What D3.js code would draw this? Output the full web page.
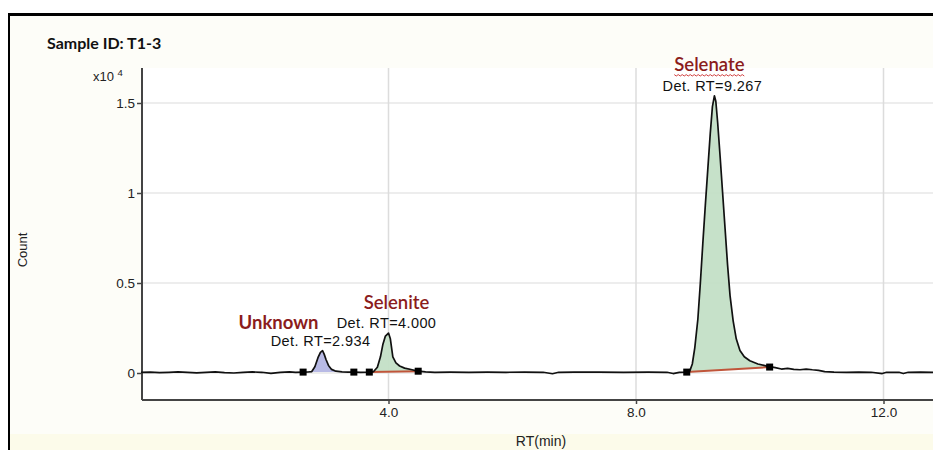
<!DOCTYPE html>
<html>
<head>
<meta charset="utf-8">
<script src="https://cdn.jsdelivr.net/npm/d3@7"></script>
<style>
  html, body { margin: 0; padding: 0; background: #ffffff; }
  svg { display: block; }
</style>
</head>
<body>
<svg id="chart" width="933" height="450"></svg>
<script>
// Chromatogram trace: retention time (min) and detector count
const traceRT = [
  0.00, 0.15, 0.30, 0.45, 0.60, 0.75, 0.90, 1.05, 1.20, 1.35, 1.50, 1.65, 1.80, 1.95, 2.10, 2.25, 2.40, 2.50, 2.62,
  2.70, 2.76, 2.81, 2.86, 2.90, 2.934, 2.96, 2.99, 3.03, 3.08, 3.15, 3.25, 3.35, 3.44,
  3.55, 3.69,
  3.76, 3.82, 3.87, 3.91, 3.95, 4.00, 4.03, 4.07, 4.12, 4.18, 4.26, 4.38, 4.48,
  4.60, 4.75, 5.00, 5.30, 5.60, 5.90, 6.20, 6.50, 6.65, 6.75, 7.00, 7.40, 7.80, 8.20, 8.50, 8.60, 8.70, 8.82,
  8.87, 8.91, 8.95, 9.00, 9.04, 9.08, 9.12, 9.16, 9.20, 9.235, 9.267, 9.29, 9.32, 9.36, 9.40, 9.44, 9.48, 9.52,
  9.57, 9.62, 9.68, 9.75, 9.84, 9.97, 10.10, 10.16,
  10.25, 10.35, 10.45, 10.55, 10.65, 10.75, 10.85, 10.95, 11.05, 11.20, 11.40, 11.60, 11.80, 11.98, 12.05,
  12.25, 12.32, 12.40, 12.60, 12.80
];
const traceCount = [
  40, 50, 20, 40, 60, 30, 10, 40, 60, 20, 0, 30, 60, 40, -20, 30, 60, 40, 50,
  55, 80, 350, 850, 1150, 1240, 1050, 750, 420, 200, 100, 60, 50, 50,
  40, 50,
  80, 320, 900, 1600, 2050, 2220, 1900, 900, 560, 390, 270, 180, 100,
  60, 40, 50, 40, 50, 40, 50, 40, -40, 40, 50, 50, 40, 50, 40, -30, 30, 50,
  120, 500, 1400, 3000, 5000, 7200, 9300, 11300, 13300, 14800, 15400, 15100, 13900, 12000, 10000, 8000, 6000, 4300,
  2900, 1900, 1250, 900, 680, 500, 400, 350,
  300, 220, 260, 200, 180, 220, 180, 150, 80, 50, 40, 50, 40, -30, 40,
  40, -30, 40, 50, 40
];

// Integrated peaks
const peakNames   = ["Unknown", "Selenite", "Selenate"];
const peakRT      = [2.934, 4.000, 9.267];
const peakStart   = [2.62, 3.69, 8.82];
const peakEnd     = [3.44, 4.48, 10.16];
const baseStart   = [50, 50, 50];
const baseEnd     = [50, 100, 330];
const peakFill    = ["#b4b6e4", "#c3dfc6", "#c3dfc6"];
const showBaseline = [false, true, true];

// Axis ticks
const xTicks = [4.0, 8.0, 12.0];
const yTicks = [0, 5000, 10000, 15000];

const svg = d3.select("#chart");
const W = 933, H = 450;
const plot = { left: 142, right: 933, top: 68, bottom: 400 };

// Page backgrounds and frame
svg.append("rect").attr("x", 0).attr("y", 0).attr("width", W).attr("height", H).attr("fill", "#ffffff");
svg.append("rect").attr("x", 9).attr("y", 15).attr("width", W - 9).attr("height", H - 15).attr("fill", "#fdfdf8");
svg.append("rect").attr("x", 9).attr("y", 434).attr("width", W - 9).attr("height", 16).attr("fill", "#fcfbea");
svg.append("rect").attr("x", plot.left).attr("y", plot.top)
  .attr("width", plot.right - plot.left).attr("height", plot.bottom - plot.top).attr("fill", "#ffffff");
svg.append("line").attr("x1", 8).attr("x2", W).attr("y1", 14.5).attr("y2", 14.5)
  .attr("stroke", "#000").attr("stroke-width", 3);
svg.append("line").attr("x1", 9).attr("x2", 9).attr("y1", 13).attr("y2", H)
  .attr("stroke", "#000").attr("stroke-width", 2);

const x = d3.scaleLinear().domain([0, 12.8]).range([141, 933]);
const y = d3.scaleLinear().domain([0, 15000]).range([373, 103]);

// Grid
const grid = svg.append("g");
grid.selectAll("line.h").data(yTicks).join("line")
  .attr("x1", plot.left).attr("x2", plot.right)
  .attr("y1", d => y(d)).attr("y2", d => y(d))
  .attr("stroke", "#dcdcdc").attr("stroke-width", 1.2);
grid.selectAll("line.v").data(xTicks).join("line")
  .attr("x1", d => x(d)).attr("x2", d => x(d))
  .attr("y1", plot.top).attr("y2", plot.bottom)
  .attr("stroke", "#dcdcdc").attr("stroke-width", 1.5);

// Axes
const xAxis = d3.axisBottom(x).tickValues(xTicks).tickFormat(d3.format(".1f")).tickSize(4).tickPadding(3);
const yAxis = d3.axisLeft(y).tickValues(yTicks).tickFormat(d => d / 1e4).tickSize(5).tickPadding(2);

const gx = svg.append("g").attr("transform", `translate(0,${plot.bottom})`).call(xAxis);
gx.select(".domain").attr("d", `M${plot.left},0H${plot.right}`).attr("stroke", "#444").attr("stroke-width", 2);
gx.selectAll(".tick line").attr("stroke", "#444").attr("stroke-width", 1.5);
gx.selectAll(".tick text").attr("font-family", "Liberation Sans, Arial, sans-serif")
  .attr("font-size", 13.5).attr("fill", "#222");

const gy = svg.append("g").attr("transform", `translate(${plot.left},0)`).call(yAxis);
gy.select(".domain").attr("d", `M0,${plot.top}V${plot.bottom}`).attr("stroke", "#444").attr("stroke-width", 2);
gy.selectAll(".tick line").attr("stroke", "#444").attr("stroke-width", 1.5);
gy.selectAll(".tick text").attr("font-family", "Liberation Sans, Arial, sans-serif")
  .attr("font-size", 13.5).attr("fill", "#222");

// Peak areas between trace and integration baseline
const trace = traceRT.map((t, i) => ({ t, c: traceCount[i] }));
peakNames.forEach((name, k) => {
  const seg = trace.filter(p => p.t >= peakStart[k] && p.t <= peakEnd[k]);
  const base = d3.scaleLinear().domain([peakStart[k], peakEnd[k]]).range([baseStart[k], baseEnd[k]]);
  const area = d3.area().x(p => x(p.t)).y0(p => y(base(p.t))).y1(p => y(p.c));
  svg.append("path").datum(seg).attr("d", area).attr("fill", peakFill[k]).attr("opacity", 0.95);
  if (showBaseline[k]) {
    svg.append("line")
      .attr("x1", x(peakStart[k])).attr("x2", x(peakEnd[k]))
      .attr("y1", y(baseStart[k])).attr("y2", y(baseEnd[k]))
      .attr("stroke", "#c0553a").attr("stroke-width", 2);
  }
});

// Trace
svg.append("path").datum(trace)
  .attr("d", d3.line().x(p => x(p.t)).y(p => y(p.c)))
  .attr("fill", "none").attr("stroke", "#111").attr("stroke-width", 1.7).attr("stroke-linejoin", "round");

// Integration markers
const markers = [];
peakNames.forEach((n, k) => {
  markers.push({ t: peakStart[k], c: baseStart[k] });
  markers.push({ t: peakEnd[k], c: baseEnd[k] });
});
svg.selectAll("rect.marker").data(markers).join("rect")
  .attr("x", d => x(d.t) - 3.5).attr("y", d => y(d.c) - 3.5)
  .attr("width", 7).attr("height", 7).attr("fill", "#000");

// Peak labels
const apexCount = peakRT.map(rt => traceCount[traceRT.indexOf(rt)]);
const nameDx = [-44, 8, -5];
const nameDy = [-17, -19, -20];
peakNames.forEach((name, k) => {
  const ax = x(peakRT[k]), ay = y(apexCount[k]);
  const detY = ay - 5;
  svg.append("text").attr("x", ax - 2).attr("y", detY)
    .attr("text-anchor", "middle").attr("font-family", "Liberation Sans, Arial, sans-serif")
    .attr("font-size", 14.5).attr("letter-spacing", 0.4).attr("fill", "#111")
    .text(`Det. RT=${peakRT[k].toFixed(3)}`);
  const t = svg.append("text").attr("x", ax + nameDx[k]).attr("y", detY + nameDy[k])
    .attr("text-anchor", "middle").attr("font-family", "Lato, Open Sans, sans-serif")
    .attr("font-size", k === 0 ? 18.5 : 18.5).attr("font-weight", k === 0 ? "bold" : "600").attr("fill", "#8b1c1c")
    .text(name);
  if (name === "Selenate") {
    const bb = t.node().getBBox();
    const y0 = detY + nameDy[k] + 4;
    const pts = d3.range(bb.x, bb.x + bb.width, 2).map((px, i) => [px, y0 + (i % 2 ? 1.2 : -0.2)]);
    svg.append("path").attr("d", d3.line()(pts)).attr("fill", "none")
      .attr("stroke", "#d04040").attr("stroke-width", 1);
  }
});

// Titles
svg.append("text").attr("x", 47).attr("y", 49)
  .attr("font-family", "Lato, Open Sans, sans-serif").attr("font-weight", "bold")
  .attr("font-size", 16).attr("fill", "#111").text("Sample ID: T1-3");

const mult = svg.append("text").attr("x", 93).attr("y", 81)
  .attr("font-family", "Liberation Sans, Arial, sans-serif").attr("font-size", 13).attr("fill", "#222");
mult.append("tspan").text("x10 ");
mult.append("tspan").attr("dy", -5).attr("font-size", 9.5).text("4");

svg.append("text").attr("transform", "translate(27,250) rotate(-90)")
  .attr("text-anchor", "middle").attr("font-family", "Liberation Sans Narrow, Liberation Sans, Arial, sans-serif")
  .attr("font-size", 13).attr("fill", "#222").text("Count");

svg.append("text").attr("x", 541).attr("y", 446)
  .attr("text-anchor", "middle").attr("font-family", "Liberation Sans, Arial, sans-serif")
  .attr("font-size", 14).attr("fill", "#222").text("RT(min)");
</script>
</body>
</html>
